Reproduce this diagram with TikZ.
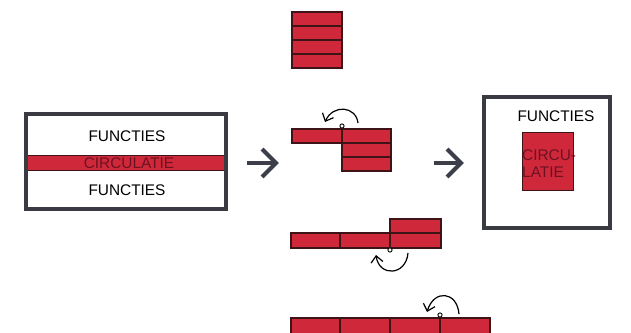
\documentclass[tikz,border=0pt]{standalone}
\usepackage{fontspec}
\setmainfont{Liberation Sans}
\usetikzlibrary{arrows.meta}
\definecolor{brick}{RGB}{206,40,58}
\definecolor{brickline}{RGB}{62,20,24}
\definecolor{bricktext}{RGB}{110,18,34}
\definecolor{frame}{RGB}{58,58,66}
\definecolor{chevron}{RGB}{60,62,74}
\tikzset{
  cell/.style={draw=brickline, fill=brick, line width=1.1pt, rectangle,
    minimum width=50pt, minimum height=14pt, inner sep=0pt, outer sep=0pt, anchor=north west},
  framebox/.style={rectangle, inner sep=0pt},
  frameline/.style={draw=frame, line width=4pt},
  label/.style={font=\fontsize{15.4}{17}\selectfont, text=black, inner sep=0pt},
  redlabel/.style={font=\fontsize{15.4}{17}\selectfont, text=bricktext, inner sep=0pt},
  pivot/.style={circle, draw=black, fill=white, line width=0.9pt, minimum size=4.2pt, inner sep=0pt},
  turn/.style={draw=black, line width=1.2pt, -{Straight Barb[length=6.5pt,width=12pt,line width=1.2pt]}},
  bigarrow/.style={draw=chevron, line width=4pt, line cap=butt, line join=miter},
}
\begin{document}
\begin{tikzpicture}[x=1pt,y=-1pt]
\useasboundingbox (0,0) rectangle (631,332);
\clip (0,0) rectangle (631,332);
\fill[white] (0,0) rectangle (631,332);

% --- layout before: functions on both sides of a circulation strip
\node[framebox, minimum width=200pt, minimum height=94pt] (leftbox) at (126.25,161.5) {};
\node[fill=brick, draw=brickline, line width=0.6pt, minimum width=198pt, minimum height=14.5pt,
      inner sep=0pt] (band) at (126.5,163) {};
\draw[frameline] (leftbox.north west) rectangle (leftbox.south east);
\node[label] (ftop) at (127,136) {FUNCTIES};
\node[redlabel] (bandtxt) at (129,163) {CIRCULATIE};
\node[label] (fbot) at (127,190) {FUNCTIES};

% --- arrow to the folding steps
\coordinate (a1s) at (247,163);
\coordinate (a1e) at (276,163);
\draw[bigarrow] (a1s) -- (a1e);
\draw[bigarrow] (262,149) -- (a1e) -- (262,177);

% --- step 1: stacked strip
\node[cell] (s1a) at (292,12) {};
\node[cell] (s1b) at (292,26) {};
\node[cell] (s1c) at (292,40) {};
\node[cell] (s1d) at (292,54) {};

% --- step 2: first segment unfolded
\node[cell] (s2a) at (292,129) {};
\node[cell, minimum width=49pt] (s2b) at (342,129) {};
\node[cell, minimum width=49pt] (s2c) at (342,143) {};
\node[cell, minimum width=49pt] (s2d) at (342,157) {};
\node[pivot] (p2) at (342,126) {};
\draw[brickline, line width=1.1pt] (p2.south) -- (s2b.north west);
\coordinate (r2s) at (358,123);
\coordinate (r2e) at (325,122);
\draw[turn] (r2s) .. controls (356,106) and (333,104) .. (r2e);

% --- step 3: two segments unfolded
\node[cell, minimum height=15pt] (s3a) at (291,233) {};
\node[cell, minimum height=15pt] (s3b) at (340,233) {};
\node[cell, minimum height=15pt, minimum width=51pt] (s3c) at (390,233) {};
\node[cell, minimum width=51pt] (s3d) at (390,219) {};
\node[pivot] (p3) at (390,250) {};
\draw[brickline, line width=1.1pt] (p3.north) -- (s3c.south west);
\coordinate (r3s) at (408,253);
\coordinate (r3e) at (376,255);
\draw[turn] (r3s) .. controls (406,276) and (379,277) .. (r3e);

% --- step 4: strip fully unfolded
\node[cell, minimum height=18pt] (s4a) at (291,318) {};
\node[cell, minimum height=18pt] (s4b) at (340,318) {};
\node[cell, minimum height=18pt] (s4c) at (390,318) {};
\node[cell, minimum height=18pt] (s4d) at (440,318) {};
\node[pivot] (p4) at (440,315) {};
\draw[brickline, line width=1.1pt] (p4.south) -- (s4d.north west);
\coordinate (r4s) at (459,314);
\coordinate (r4e) at (427,312);
\draw[turn] (r4s) .. controls (457,291) and (434,289) .. (r4e);

% --- arrow to the result
\coordinate (a2s) at (434,163);
\coordinate (a2e) at (461,163);
\draw[bigarrow] (a2s) -- (a2e);
\draw[bigarrow] (447,149) -- (a2e) -- (447,177);

% --- layout after: circulation core inside the functions
\node[framebox, minimum width=125pt, minimum height=130.5pt] (rightbox) at (547,162.25) {};
\draw[frameline] (rightbox.north west) rectangle (rightbox.south east);
\node[label] (fright) at (556,116) {FUNCTIES};
\node[fill=brick, draw=brickline, line width=0.6pt, minimum width=51pt, minimum height=58pt,
      inner sep=0pt, anchor=north west] (core) at (522,132) {};
\node[redlabel, anchor=west] (coretxt1) at (522,155) {CIRCU-};
\node[redlabel, anchor=west] (coretxt2) at (522,172) {LATIE};
\end{tikzpicture}
\end{document}
